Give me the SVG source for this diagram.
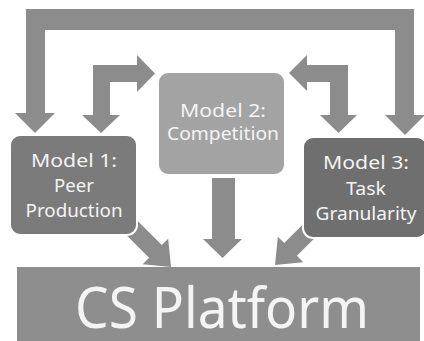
<svg xmlns="http://www.w3.org/2000/svg" width="424" height="341" viewBox="0 0 424 341">
<style>
.arr{fill:#8c8c8c}
.box{stroke:#ffffff;stroke-width:2}
.t{font-family:"Noto Sans","Open Sans","Liberation Sans",sans-serif;fill:#f4f4f4;text-anchor:middle}
.s{font-size:18px}
</style>
<rect width="424" height="341" fill="#ffffff"/>
<g id="connectors">
<polygon class="arr" points="35,133 55,113 45,113 45,30 395,30 395,115 385,115 405,135 425,115 414,115 414,9 26,9 26,113 15,113"/>
<polygon class="arr" points="101,133 120,115 110,115 110,82 137,82 137,92 155,73.5 137,55 137,65 93,65 93,115 82,115"/>
<polygon class="arr" points="289,73 307,55 307,65 348,65 348,115 357,115 338.5,133 320,115 330,115 330,82 307,82 307,91"/>
<polygon class="arr" points="222.5,258 242,239 235,239 235,178 212,178 212,239 203,239"/>
<polygon class="arr" transform="translate(171,267) rotate(45)" points="0,0 -22,-18 -22,-9 -60,-9 -60,9 -22,9 -22,18"/>
<polygon class="arr" transform="translate(275,265) rotate(135)" points="0,0 -22,-18 -22,-9 -60,-9 -60,9 -22,9 -22,18"/>
</g>
<g id="model1">
<rect class="box" x="10" y="135" width="127" height="100" rx="10" fill="#7b7b7b"/>
<text class="t s" x="74" y="167" textLength="86" lengthAdjust="spacingAndGlyphs">Model 1:</text>
<text class="t s" x="74" y="192" textLength="40" lengthAdjust="spacingAndGlyphs">Peer</text>
<text class="t s" x="74" y="217" textLength="97" lengthAdjust="spacingAndGlyphs">Production</text>
</g>
<g id="model2">
<rect class="box" x="158" y="72" width="127" height="103" rx="10" fill="#a3a3a3"/>
<text class="t s" x="223" y="117" textLength="86" lengthAdjust="spacingAndGlyphs">Model 2:</text>
<text class="t s" x="223" y="140" textLength="112" lengthAdjust="spacingAndGlyphs">Competition</text>
</g>
<g id="model3">
<rect class="box" x="303" y="137" width="124" height="101" rx="10" fill="#6f6f6f"/>
<text class="t s" x="366" y="169" textLength="86" lengthAdjust="spacingAndGlyphs">Model 3:</text>
<text class="t s" x="366" y="195" textLength="40" lengthAdjust="spacingAndGlyphs">Task</text>
<text class="t s" x="366" y="220" textLength="101" lengthAdjust="spacingAndGlyphs">Granularity</text>
</g>
<g id="platform">
<rect x="17" y="267" width="403" height="80" fill="#8e8e8e"/>
<text class="t" x="222" y="328" font-size="56" textLength="294" lengthAdjust="spacingAndGlyphs" fill="#ffffff">CS Platform</text>
</g>
</svg>
